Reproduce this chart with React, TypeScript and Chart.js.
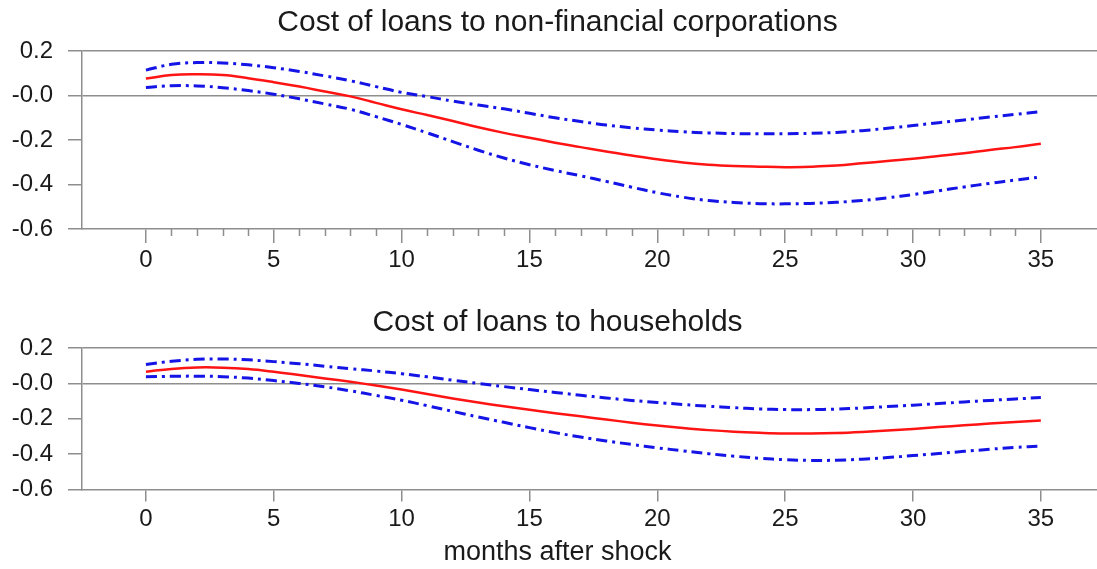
import React, { useEffect, useRef } from 'react';
import { Chart, registerables } from 'chart.js';

Chart.register(...registerables);

// ---------- data ----------
const months = [0, 1, 2, 3, 4, 5, 6, 7, 8, 9, 10, 11, 12, 13, 14, 15, 16, 17, 18, 19, 20, 21, 22, 23, 24, 25, 26, 27, 28, 29, 30, 31, 32, 33, 34, 35];
const yTickValues = [-0.6, -0.5, -0.4, -0.3, -0.2, -0.1, 0, 0.1, 0.2];

const corpTitle = 'Cost of loans to non-financial corporations';
const corpMid = [0.076, 0.092, 0.095, 0.092, 0.078, 0.06, 0.04, 0.018, -0.004, -0.033, -0.062, -0.088, -0.115, -0.143, -0.168, -0.19, -0.212, -0.232, -0.252, -0.27, -0.287, -0.301, -0.311, -0.317, -0.32, -0.322, -0.32, -0.315, -0.305, -0.294, -0.284, -0.272, -0.26, -0.245, -0.232, -0.217];
const corpUpper = [0.114, 0.14, 0.148, 0.146, 0.138, 0.125, 0.108, 0.088, 0.066, 0.04, 0.014, -0.005, -0.025, -0.043, -0.06, -0.08, -0.1, -0.117, -0.133, -0.145, -0.155, -0.163, -0.168, -0.171, -0.172, -0.172, -0.17, -0.166, -0.158, -0.147, -0.135, -0.122, -0.11, -0.097, -0.085, -0.073];
const corpLower = [0.036, 0.044, 0.043, 0.035, 0.022, 0.006, -0.015, -0.038, -0.062, -0.095, -0.13, -0.168, -0.207, -0.246, -0.281, -0.311, -0.337, -0.361, -0.386, -0.412, -0.437, -0.457, -0.472, -0.481, -0.486, -0.487, -0.485, -0.48, -0.472, -0.46, -0.445, -0.428, -0.411, -0.395, -0.38, -0.366];

const hhTitle = 'Cost of loans to households';
const hhMid = [0.066, 0.082, 0.09, 0.089, 0.081, 0.066, 0.048, 0.028, 0.009, -0.012, -0.035, -0.06, -0.085, -0.108, -0.129, -0.149, -0.168, -0.186, -0.204, -0.222, -0.238, -0.252, -0.264, -0.273, -0.279, -0.283, -0.283, -0.28, -0.274, -0.266, -0.257, -0.247, -0.237, -0.227, -0.218, -0.209];
const hhUpper = [0.107, 0.125, 0.136, 0.138, 0.133, 0.123, 0.111, 0.097, 0.083, 0.07, 0.055, 0.037, 0.018, 0.0, -0.018, -0.035, -0.051, -0.067, -0.082, -0.096, -0.108, -0.119, -0.129, -0.137, -0.144, -0.148, -0.148, -0.145, -0.139, -0.131, -0.123, -0.114, -0.105, -0.096, -0.088, -0.08];
const hhLower = [0.037, 0.04, 0.041, 0.038, 0.03, 0.016, 0.0, -0.019, -0.042, -0.068, -0.095, -0.126, -0.158, -0.19, -0.22, -0.25, -0.278, -0.303, -0.325, -0.345, -0.364, -0.381, -0.397, -0.411, -0.423, -0.431, -0.435, -0.434, -0.428, -0.419, -0.408, -0.396, -0.384, -0.372, -0.362, -0.354];

const xAxisTitle = 'months after shock';

// ---------- styles ----------
const GRAY = '#8e8e8e';
const TEXT = '#1a1a1a';
const RED = '#ff1414';
const BLUE = '#1414e6';
const FONT = "'Liberation Sans', Arial, Helvetica, sans-serif";
// canvas is a little wider than the page; the part past 1097px is hidden
const CANVAS_W = 1115;
const X_MIN = -2.5;
const X_MAX = 37.9;

const minorTickPlugin = {
  id: 'minorTicks',
  afterDraw(chart: any, _args: any, opts: any) {
    if (!opts || !opts.enabled) return;
    const xs = chart.scales.x;
    const ctx = chart.ctx;
    ctx.save();
    ctx.strokeStyle = GRAY;
    ctx.lineWidth = 1.5;
    const y0 = chart.chartArea.bottom;
    months.forEach((m) => {
      if (m % 5 === 0) return;
      const px = Math.round(xs.getPixelForValue(m)) + 0.5;
      ctx.beginPath();
      ctx.moveTo(px, y0);
      ctx.lineTo(px, y0 + 7);
      ctx.stroke();
    });
    ctx.restore();
  },
};

type PanelProps = {
  title: string;
  mid: number[];
  upper: number[];
  lower: number[];
  top: number;
  height: number;
  titlePadTop: number;
  titlePadBottom: number;
  xAxisHeight: number;
  minor: boolean;
  xTitle?: string;
};

function Panel(p: PanelProps) {
  const ref = useRef<HTMLCanvasElement | null>(null);
  useEffect(() => {
    if (!ref.current) return;
    const pts = (arr: number[]) => months.map((m, i) => ({ x: m, y: arr[i] }));
    const dashed = (arr: number[]) => ({
      data: pts(arr),
      borderColor: BLUE,
      borderWidth: 3,
      borderDash: [11, 5, 3, 5],
      pointRadius: 0,
      tension: 0.4,
      fill: false,
    });
    const chart = new Chart(ref.current, {
      type: 'line',
      data: {
        datasets: [
          dashed(p.upper),
          dashed(p.lower),
          {
            data: pts(p.mid),
            borderColor: RED,
            borderWidth: 2.5,
            pointRadius: 0,
            tension: 0.4,
            fill: false,
          },
        ],
      },
      plugins: [minorTickPlugin],
      options: {
        animation: false,
        responsive: false,
        maintainAspectRatio: false,
        layout: { padding: 0 },
        plugins: {
          legend: { display: false },
          tooltip: { enabled: false },
          title: {
            display: true,
            text: p.title,
            color: TEXT,
            font: { family: FONT, size: 30, weight: 'normal', lineHeight: 1.2 },
            padding: { top: p.titlePadTop, bottom: p.titlePadBottom },
          },
          subtitle: p.xTitle
            ? {
                display: true,
                position: 'bottom',
                text: p.xTitle,
                color: TEXT,
                font: { family: FONT, size: 27, weight: 'normal', lineHeight: 1.2 },
                padding: { top: 0.5, bottom: 0.5 },
              }
            : { display: false },
          minorTicks: { enabled: p.minor },
        } as any,
        scales: {
          x: {
            type: 'linear',
            min: X_MIN,
            max: X_MAX,
            afterBuildTicks: (s: any) => {
              s.ticks = months.map((v) => ({ value: v }));
            },
            afterFit: (s: any) => {
              s.height = p.xAxisHeight;
            },
            grid: {
              drawOnChartArea: false,
              tickLength: p.minor ? 14 : 12,
              lineWidth: 1.5,
              tickColor: (c: any) => (c.tick && c.tick.value % 5 === 0 ? GRAY : 'rgba(0,0,0,0)'),
            },
            border: { display: true, color: GRAY, width: 1.5 },
            ticks: {
              autoSkip: false,
              maxRotation: 0,
              padding: 3,
              color: TEXT,
              font: { family: FONT, size: 24 },
              callback: (v: any) => (Number(v) % 5 === 0 ? String(v) : ''),
            },
          },
          y: {
            min: -0.6,
            max: 0.2,
            afterBuildTicks: (s: any) => {
              s.ticks = yTickValues.map((v) => ({ value: v }));
            },
            afterFit: (s: any) => {
              s.width = 82;
            },
            grid: {
              lineWidth: 1.5,
              tickLength: 14,
              tickColor: GRAY,
              color: (c: any) =>
                c.tick && (Math.abs(c.tick.value) < 1e-9 || Math.abs(c.tick.value - 0.2) < 1e-9)
                  ? GRAY
                  : 'rgba(0,0,0,0)',
            },
            border: { display: true, color: GRAY, width: 1.5 },
            ticks: {
              padding: 15,
              color: TEXT,
              font: { family: FONT, size: 24 },
              callback: (v: any) => {
                const n = Math.round(Number(v) * 10);
                if (n % 2 !== 0) return '';
                if (n === 0) return '-0.0';
                return (n / 10).toFixed(1);
              },
            },
          },
        },
      } as any,
    });
    return () => chart.destroy();
  }, []);
  return (
    <canvas
      ref={ref}
      width={CANVAS_W}
      height={p.height}
      style={{ position: 'absolute', left: 0, top: p.top, width: CANVAS_W, height: p.height }}
    />
  );
}

export default function App() {
  return (
    <div style={{ position: 'absolute', left: 0, top: 0, width: 1097, height: 569, background: '#fff', overflow: 'hidden' }}>
      <Panel
        title={corpTitle}
        mid={corpMid}
        upper={corpUpper}
        lower={corpLower}
        top={0}
        height={290}
        titlePadTop={5}
        titlePadBottom={10}
        xAxisHeight={61}
        minor={true}
      />
      <Panel
        title={hhTitle}
        mid={hhMid}
        upper={hhUpper}
        lower={hhLower}
        top={290}
        height={279}
        titlePadTop={15}
        titlePadBottom={7}
        xAxisHeight={46}
        minor={false}
        xTitle={xAxisTitle}
      />
    </div>
  );
}
